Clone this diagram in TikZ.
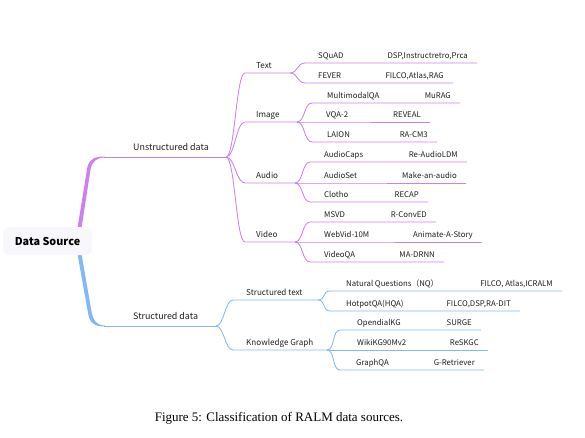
\documentclass[tikz,border=0pt]{standalone}
\usepackage{fontspec}
\newfontfamily\mmfont{Noto Sans CJK SC}
\newfontfamily\capfont{Liberation Serif}
\definecolor{purp}{RGB}{204,128,240}
\definecolor{blu}{RGB}{128,184,248}
\definecolor{rootfill}{RGB}{247,247,252}
\definecolor{txt}{RGB}{30,30,30}
\tikzset{
  lbl/.style={font=\mmfont\fontsize{7.8}{9}\selectfont, inner sep=0pt, anchor=base west, text=txt},
  mth/.style={lbl, anchor=base east},
  lbltwo/.style={lbl, font=\mmfont\fontsize{8.1}{10}\selectfont},
  lblone/.style={lbl, font=\mmfont\fontsize{8.9}{11}\selectfont},
  pl/.style={draw=purp, line width=0.85pt},
  bl/.style={draw=blu, line width=0.85pt},
}
\begin{document}
\begin{tikzpicture}[x=1pt,y=-1pt]
\useasboundingbox (0,0) rectangle (585,437);
% main tapered branches
\fill[purp] (77.5,228) -- (87.3,167.5) .. controls (89.5,158.5) and (95,156.5) .. (105,156.5)
   -- (105,157.5) .. controls (97,157.5) and (92.5,161) .. (90.7,168.5) -- (81.5,228) -- cycle;
\fill[blu] (77.5,254) -- (88.2,314) .. controls (90,323.5) and (95,326.5) .. (105,326.5)
   -- (105,325.5) .. controls (97,325.5) and (93.5,321) .. (91.6,312) -- (81.5,254) -- cycle;
% root
\node[fill=rootfill, rounded corners=6pt, minimum width=89pt, minimum height=28pt, inner sep=0pt,
  font=\mmfont\bfseries\fontsize{10.8}{13}\selectfont, text=black] (root) at (47.5,241) {Data Source};

% ---------- Unstructured ----------
\coordinate (unsS) at (104,157); \coordinate (unsE) at (226,157);
\draw[pl] (unsS) -- (unsE);
\node[lblone] (unsL) at (133,150) {Unstructured data};

\foreach \n/\y/\e/\t in {txt/73/290/Text, img/122/297/Image, aud/183/295/Audio, vid/242/295/Video}{
  \coordinate (\n S) at (245,\y); \coordinate (\n E) at (\e,\y);
  \draw[pl] (unsE) .. controls +(9,0) and +(-9,0) .. (\n S) -- (\n E);
  \node[lbltwo] (\n L) at (256,\y-5) {\t};
}

% leaves: name / junction / y / start / end / label x / label / method
\foreach \n/\j/\y/\s/\e/\lx/\a/\m in {
  squad/txt/63/305/477/318/SQuAD/{DSP,Instructretro,Prca},
  fever/txt/83/305/453/318/FEVER/{FILCO,Atlas,RAG},
  mmqa/img/103/312/460/327/MultimodalQA/MuRAG,
  vqa/img/122/312/430/326/VQA-2/REVEAL,
  laion/img/142/312/437/327/LAION/RA-CM3,
  acaps/aud/162/310/467/324/AudioCaps/Re-AudioLDM,
  aset/aud/183/310/466/324/AudioSet/Make-an-audio,
  clotho/aud/202/310/428/324/Clotho/RECAP,
  msvd/vid/222/310/436/324/MSVD/R-ConvED,
  webvid/vid/242/310/482/324/WebVid-10M/Animate-A-Story,
  vidqa/vid/262/310/444/324/VideoQA/MA-DRNN}{
  \coordinate (\n S) at (\s,\y); \coordinate (\n E) at (\e,\y);
  \draw[pl] (\j E) .. controls +(8,0) and +(-8,0) .. (\n S) -- (\n E);
  \node[lbl] (\n L) at (\lx,\y-4.5) {\a};
  \node[mth] (\n M) at (\e-9,\y-4.5) {\m};
}

% ---------- Structured ----------
\coordinate (strS) at (104,326); \coordinate (strE) at (216,326);
\draw[bl] (strS) -- (strE);
\node[lblone] (strL) at (133,319) {Structured data};

\foreach \n/\y/\e/\t in {stx/300/318/Structured text, kg/350/327/Knowledge Graph}{
  \coordinate (\n S) at (233,\y); \coordinate (\n E) at (\e,\y);
  \draw[bl] (strE) .. controls +(8,0) and +(-8,0) .. (\n S) -- (\n E);
  \node[lbltwo] (\n L) at (246,\y-5) {\t};
}

\foreach \n/\j/\y/\s/\e/\lx/\a/\m in {
  nq/stx/291/330/562/346/{Natural Questions（NQ）}/{FILCO, Atlas,ICRALM},
  hqa/stx/311/330/520/346/HotpotQA(HQA)/{FILCO,DSP,RA-DIT},
  odkg/kg/330/340/481/357/OpendialKG/SURGE,
  wkg/kg/350/340/488/357/WikiKG90Mv2/ReSKGC,
  gqa/kg/370/340/484/356/GraphQA/G-Retriever}{
  \coordinate (\n S) at (\s,\y); \coordinate (\n E) at (\e,\y);
  \draw[bl] (\j E) .. controls +(8,0) and +(-8,0) .. (\n S) -- (\n E);
  \node[lbl] (\n L) at (\lx,\y-4.5) {\a};
  \node[mth] (\n M) at (\e-9,\y-4.5) {\m};
}

% caption
\node[font=\capfont\fontsize{13}{15}\selectfont, anchor=base, inner sep=0pt] (cap) at (279,421)
  {Figure 5: Classification of RALM data sources.};
\end{tikzpicture}
\end{document}
